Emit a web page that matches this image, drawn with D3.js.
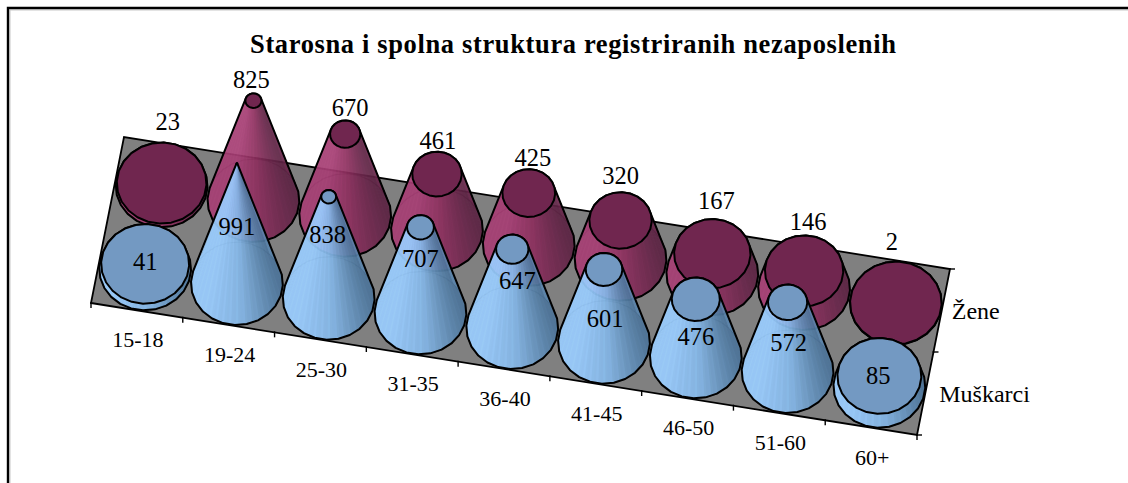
<!DOCTYPE html>
<html><head><meta charset="utf-8">
<script src="https://cdn.jsdelivr.net/npm/d3@7/dist/d3.min.js"></script>
<style>html,body{margin:0;padding:0;background:#fff}svg{display:block}text{font-family:"Liberation Serif","Times New Roman",serif;fill:#000}</style>
</head><body><svg id="c" width="1128" height="483"></svg>
<script>
const categories = ["15-18","19-24","25-30","31-35","36-40","41-45","46-50","51-60","60+"];
const seriesNames = ["Muškarci","Žene"];
const muskarci = [41,991,838,707,647,601,476,572,85];
const zene = [23,825,670,461,425,320,167,146,2];
const axisMax = 1000;
// hand-placed data label nudges (label centre relative to cone top centre)
const menLabelDx = [0,0,-1,0,5,1,0,1,-1];
const menLabelDy = [-2,63,38,32,32,50,38,41,0];
const womenLabelDx = [6,-2,5,1,4,0,4,4,-4];
const womenLabelDy = [-61,-21,-26,-33,-35,-44,-53,-49,-61];

const svg=d3.select("#c");
const FL=[91,303],FR=[917,435],BL=[124,137];
const uScale=d3.scaleBand().domain(categories).range([0,1]);
const wScale=d3.scaleBand().domain(seriesNames).range([0,1]);
const hScale=d3.scaleLinear().domain([0,axisMax]).range([0,121]);
const rScale=d3.scaleLinear().domain([0,axisMax]).range([0.985,0]);
const pt=(u,w)=>[FL[0]+u*(FR[0]-FL[0])+w*(BL[0]-FL[0]),FL[1]+u*(FR[1]-FL[1])+w*(BL[1]-FL[1])];
const ex=[(FR[0]-FL[0])/18,(FR[1]-FL[1])/18];
const ey=[(BL[0]-FL[0])/4,(BL[1]-FL[1])/4];
const N=24,STR=5;
const line=d3.line();

// chart frame: only the top and left sides are inside the picture
svg.append("path").attr("d","M10,483V10H1128").attr("fill","none").attr("stroke","#c8c8c8").attr("stroke-width",1);
svg.append("path").attr("d","M8,483V8H1128").attr("fill","none").attr("stroke","#000").attr("stroke-width",2.4);

svg.append("text").attr("x",250).attr("y",53).attr("font-size",26.5).attr("font-weight","bold")
  .attr("textLength",646).attr("lengthAdjust","spacing").text("Starosna i spolna struktura registriranih nezaposlenih");

const floor=[pt(0,0),pt(1,0),pt(1,1),pt(0,1)];
svg.append("path").attr("d",line(floor)+"Z").attr("fill","#808080").attr("stroke","#000").attr("stroke-width",1.8);

// ticks
d3.range(categories.length+1).forEach(i=>{
  const p=pt(i/categories.length,0);
  svg.append("line").attr("x1",p[0]).attr("y1",p[1]-1).attr("x2",p[0]).attr("y2",p[1]+5).attr("stroke","#000").attr("stroke-width",1.4);
});
[0,0.5,1].forEach(w=>{
  const p=pt(1,w);
  svg.append("line").attr("x1",p[0]-1).attr("y1",p[1]).attr("x2",p[0]+5).attr("y2",p[1]).attr("stroke","#000").attr("stroke-width",1.4);
});
categories.forEach(c=>{
  const p=pt(uScale(c)+uScale.bandwidth()/2,0);
  svg.append("text").attr("x",p[0]+1).attr("y",p[1]+37).attr("text-anchor","middle").attr("font-size",22).text(c);
});
const depthLabelOffset={"Žene":10,"Muškarci":14};
seriesNames.forEach(s=>{
  const p=pt(1,wScale(s)+wScale.bandwidth()/2);
  svg.append("text").attr("x",p[0]+depthLabelOffset[s]).attr("y",p[1]+8).attr("font-size",24).text(s);
});

function ring(c,r,h){
  return d3.range(N).map(i=>{
    const t=2*Math.PI*(i+0.5)/N;
    return [c[0]+r*(Math.cos(t)*ex[0]+Math.sin(t)*ey[0]), c[1]+r*(Math.cos(t)*ex[1]+Math.sin(t)*ey[1])-h];
  });
}
function drawCone(g,center,v,pal){
  const h=hScale(v), r0=rScale(0), r1=rScale(v);
  const base=ring(center,r0,0), top=ring(center,r1,h);
  const hull=d3.polygonHull(base.concat(top));
  // faint see-through base edge
  g.append("path").attr("d",line(base)+"Z").attr("fill","none").attr("stroke","#000").attr("stroke-width",1.2).attr("stroke-opacity",0.6);
  const xs=base.map(d=>d[0]), x0=d3.min(xs), x1=d3.max(xs);
  const color=d3.scaleLinear().domain([0,0.15,0.55,1]).range([pal.light,pal.light,pal.mid,pal.dark]);
  const M=N*STR;
  const q=(t,r,hh)=>[center[0]+r*(Math.cos(t)*ex[0]+Math.sin(t)*ey[0]),center[1]+r*(Math.cos(t)*ex[1]+Math.sin(t)*ey[1])-hh];
  // the surface is slightly see-through as a whole; strips give the fine ribbing
  const gs=g.append("g").attr("opacity",0.92);
  const strips=d3.range(M).map(k=>{
    const a=2*Math.PI*k/M, b=2*Math.PI*(k+1.7)/M, mid=2*Math.PI*(k+0.5)/M;
    return {k,a,b,mid,back:Math.sin(mid)>0};
  }).sort((p,s)=>d3.descending(p.back,s.back));
  strips.forEach(s=>{
    const poly=[q(s.a,r0,0),q(s.b,r0,0),q(s.b,r1,h),q(s.a,r1,h)];
    const f=(q(s.mid,r0,0)[0]-x0)/(x1-x0);
    let col=d3.color(color(Math.max(0,Math.min(1,f))));
    if(s.k%3===0) col=col.brighter(0.07);
    gs.append("path").attr("d",line(poly)+"Z").attr("fill",col.formatHex());
  });
  g.append("path").attr("d",line(hull)+"Z").attr("fill","none").attr("stroke","#000").attr("stroke-width",2).attr("stroke-linejoin","round");
  g.append("path").attr("d",line(top)+"Z").attr("fill",pal.top).attr("stroke","#000").attr("stroke-width",2).attr("stroke-linejoin","round");
}
const palWomen={light:"#a63e74",mid:"#8d2f5e",dark:"#5c2343",top:"#70264f"};
const palMen={light:"#99ccff",mid:"#84b6e6",dark:"#4d7499",top:"#7399c2"};
const gC=svg.append("g");
const series=[{name:"Žene",vals:zene,pal:palWomen},{name:"Muškarci",vals:muskarci,pal:palMen}];
series.forEach(s=>{
  const w=wScale(s.name)+wScale.bandwidth()/2;
  categories.forEach((c,i)=>{
    drawCone(gC.append("g"),pt(uScale(c)+uScale.bandwidth()/2,w),s.vals[i],s.pal);
  });
});
// labels
categories.forEach((c,i)=>{
  const u=uScale(c)+uScale.bandwidth()/2;
  const pw=pt(u,wScale("Žene")+wScale.bandwidth()/2);
  const v=zene[i];
  svg.append("text").attr("x",pw[0]+womenLabelDx[i]).attr("y",pw[1]-hScale(v)+womenLabelDy[i]+8).attr("text-anchor","middle").attr("font-size",24.5).text(v);
  const pm=pt(u,wScale("Muškarci")+wScale.bandwidth()/2);
  const vm=muskarci[i];
  svg.append("text").attr("x",pm[0]+menLabelDx[i]).attr("y",pm[1]-hScale(vm)+menLabelDy[i]+8).attr("text-anchor","middle").attr("font-size",24.5).text(vm);
});
</script></body></html>
